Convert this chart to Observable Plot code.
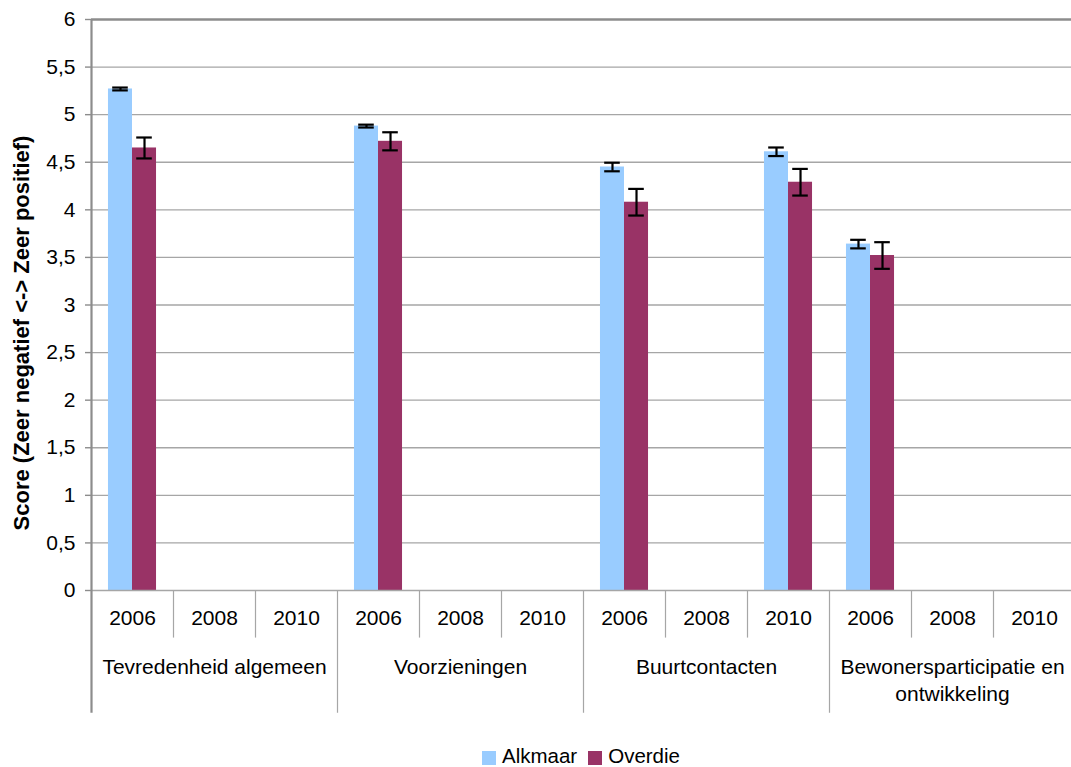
<!DOCTYPE html>
<html>
<head>
<meta charset="utf-8">
<script src="https://cdn.jsdelivr.net/npm/d3@7"></script>
<script src="https://cdn.jsdelivr.net/npm/@observablehq/plot@0.6"></script>
<style>
  html, body { margin: 0; padding: 0; background: #fff; }
  #wrap { position: relative; width: 1071px; height: 767px; overflow: hidden; font-family: "Liberation Sans", Arial, sans-serif; }
  #title { position: absolute; left: -32px; top: -12px; font-size: 20px; line-height: 20px; font-style: italic; white-space: nowrap; color: #000; }
  #chart { position: absolute; left: 0; top: 0; }
  #legend { position: absolute; left: 482px; top: 746px; display: flex; align-items: center; font-size: 20.5px; line-height: 20px; white-space: nowrap; color: #000; }
  .sw { display: inline-block; width: 14px; height: 14px; margin-top: 4px; }
</style>
</head>
<body>
<div id="wrap">
  <div id="title">Figuur 3.2.4 Scores leefbaarheid per deelthema 2006, 2008 en 2010</div>
  <div id="chart"></div>
  <div id="legend"></div>
</div>
<script>
// ---- data ----
const groups = ["Tevredenheid algemeen", "Voorzieningen", "Buurtcontacten", "Bewonersparticipatie en\nontwikkeling"];
const years = ["2006", "2008", "2010"];
const series = ["Alkmaar", "Overdie"];
const seriesColors = ["#99CCFF", "#993366"];
// one value per slot (group × year), null = no data
const alkmaar    = [5.27, null, null, 4.88, null, null, 4.45, null, 4.61, 3.64, null, null];
const alkmaarErr = [0.015, null, null, 0.015, null, null, 0.045, null, 0.045, 0.045, null, null];
const overdie    = [4.65, null, null, 4.72, null, null, 4.08, null, 4.29, 3.52, null, null];
const overdieErr = [0.11, null, null, 0.095, null, null, 0.14, null, 0.14, 0.14, null, null];
const yTicks = [0, 0.5, 1, 1.5, 2, 2.5, 3, 3.5, 4, 4.5, 5, 5.5, 6];
const yLabel = "Score (Zeer negatief <-> Zeer positief)";

// ---- layout helpers (slot units) ----
const nSlots = groups.length * years.length;
const gapFrac = 0.207, barFrac = 0.293, capHalf = 0.095;
const values = {Alkmaar: alkmaar, Overdie: overdie};
const errs = {Alkmaar: alkmaarErr, Overdie: overdieErr};

const rows = [];
for (let i = 0; i < nSlots; i++) {
  series.forEach((s, k) => {
    const v = values[s][i];
    if (v == null) return;
    const x1 = i + gapFrac + k * barFrac;
    rows.push({series: s, value: v, err: errs[s][i], x1, x2: x1 + barFrac, cx: x1 + barFrac / 2});
  });
}
const yearLabels = d3.range(nSlots).map(i => ({x: i + 0.5, label: years[i % years.length]}));
const groupLabels = groups.map((g, j) => ({x: j * years.length + years.length / 2, label: g}));
const yearSeps = d3.range(1, nSlots).filter(i => i % years.length !== 0);
const groupSeps = d3.range(0, nSlots + 1, years.length);
const fmt = d => String(d).replace(".", ",");

const gridColor = "#a6a6a6";
const axisColor = "#8c8c8c";

const chart = Plot.plot({
  width: 1071,
  height: 720,
  marginTop: 19,
  marginBottom: 130,
  marginLeft: 91,
  marginRight: 0,
  style: {fontFamily: "'Liberation Sans', Arial, sans-serif", fontSize: "21px", color: "#000", background: "#fff", overflow: "visible"},
  x: {type: "linear", domain: [0, nSlots], range: [91, 1075], axis: null},
  y: {domain: [0, 6], axis: null},
  color: {domain: series, range: seriesColors},
  marks: [
    Plot.ruleY(yTicks.filter(t => t > 0 && t < 6), {stroke: gridColor, strokeWidth: 1.4}),
    Plot.rectY(rows, {x1: "x1", x2: "x2", y1: 0, y2: "value", fill: "series"}),
    Plot.ruleX(rows, {x: "cx", y1: d => d.value - d.err, y2: d => d.value + d.err, stroke: "#000", strokeWidth: 2.2}),
    Plot.ruleY(rows, {y: d => d.value + d.err, x1: d => d.cx - capHalf, x2: d => d.cx + capHalf, stroke: "#000", strokeWidth: 2.2}),
    Plot.ruleY(rows, {y: d => d.value - d.err, x1: d => d.cx - capHalf, x2: d => d.cx + capHalf, stroke: "#000", strokeWidth: 2.2}),
    // baseline and frame
    Plot.ruleY([0], {stroke: gridColor, strokeWidth: 1.6}),
    Plot.ruleY([6], {stroke: axisColor, strokeWidth: 2.5}),
    // y axis ticks + labels
    Plot.axisY({ticks: yTicks, tickFormat: fmt, tickSize: 6, tickPadding: 10, stroke: axisColor, strokeWidth: 1.4, label: null, fontSize: 21}),
    Plot.text([yLabel], {frameAnchor: "left", textAnchor: "middle", rotate: -90, dx: -70, dy: 28, fontWeight: "bold", fontSize: 22, fill: "#000"}),
    // category axis separators
    Plot.ruleX(yearSeps, {x: d => d, y1: 0, y2: -0.5, stroke: gridColor, strokeWidth: 1.2}),
    Plot.ruleX(groupSeps.slice(1), {x: d => d, y1: 0, y2: -1.29, stroke: gridColor, strokeWidth: 1.2}),
    Plot.ruleX([0], {y1: -1.29, y2: 6, stroke: axisColor, strokeWidth: 2.2}),
    // category labels
    Plot.text(yearLabels, {x: "x", y: 0, dy: 28, text: "label", fontSize: 21, fill: "#000"}),
    Plot.text(groupLabels, {x: "x", y: 0, dy: 64, text: "label", fontSize: 21, lineAnchor: "top", lineHeight: 1.3, fill: "#000"})
  ]
});
document.getElementById("chart").appendChild(chart);

// legend
const legend = document.getElementById("legend");
series.forEach((s, k) => {
  const sw = document.createElement("span");
  sw.className = "sw";
  sw.style.background = seriesColors[k];
  sw.style.marginRight = "6px";
  if (k > 0) sw.style.marginLeft = "11px";
  const t = document.createElement("span");
  t.textContent = s;
  legend.appendChild(sw);
  legend.appendChild(t);
});
</script>
</body>
</html>
